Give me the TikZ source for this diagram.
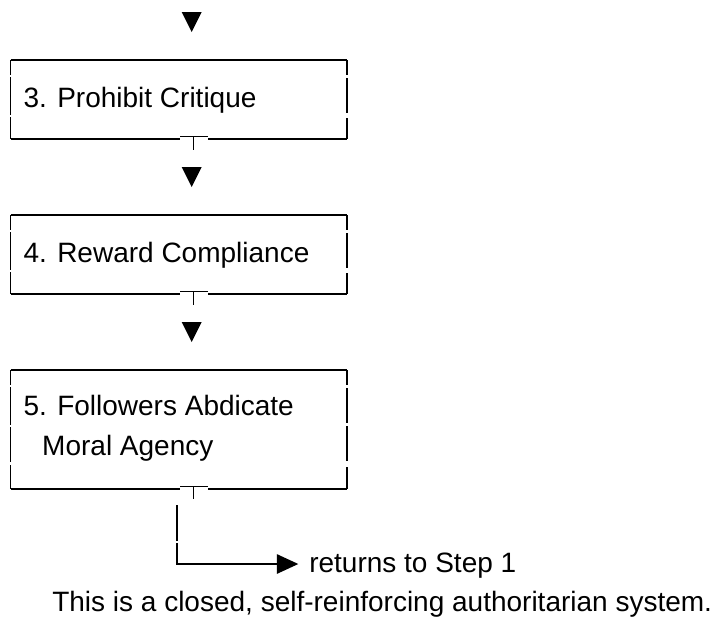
\documentclass[tikz,border=0pt]{standalone}
\usepackage{fontspec}
\setmainfont{Liberation Sans}
\usepackage{tikz}
\usetikzlibrary{arrows.meta}
\tikzstyle{steptext} = [anchor=base west, inner sep=0pt, font=\fontsize{21}{30}\selectfont, align=left]
\tikzstyle{frame} = [line width=1.5pt]
\tikzstyle{side} = [line width=1pt]
\tikzstyle{thickside} = [line width=1.5pt]
\tikzstyle{tee} = [line width=0.8pt]
\tikzstyle{head} = [fill=black]
\tikzstyle{arrow} = [line width=1.1pt, -{Triangle[length=16pt,width=14.5pt]}]

\begin{document}
\begin{tikzpicture}[x=0.75pt, y=-0.75pt]
	\useasboundingbox (0,0) rectangle (723,618);

	\node (prohibit) [steptext] at (23.3,107) {3. Prohibit Critique};
	\node (reward) [steptext] at (23.3,262) {4. Reward Compliance};
	\node (abdicate) [steptext] at (23.3,455) {5. Followers Abdicate\\\hspace*{14pt}Moral Agency};
	\node (ret) [steptext] at (309,572) {returns to Step 1};
	\node (note) [steptext] at (52,611) {This is a closed, self-reinforcing authoritarian system.};

	% heads between the boxes
	\foreach \ty in {12,167,322} {
		\fill[head] (181.7,\ty) -- (201.7,\ty) -- (191.7,\ty+20) -- cycle;
	}

	% frames of the one-line boxes
	\foreach \dy in {0,155} {
		\begin{scope}[shift={(0,\dy)}]
			\draw[frame] (10.5,60) -- (347,60);
			\draw[frame] (10.5,138.5) -- (180,138.5);
			\draw[frame] (208,138.5) -- (347,138.5);
			\draw[side] (10.5,60) -- (10.5,75);
			\draw[side] (10.5,77) -- (10.5,115);
			\draw[side] (10.5,117) -- (10.5,138.5);
			\draw[thickside] (347,60) -- (347,75);
			\draw[thickside] (347,78) -- (347,113);
			\draw[thickside] (347,118) -- (347,138.5);
			\draw[tee] (180,136.3) -- (208,136.3);
			\draw[tee] (193.3,136.3) -- (193.3,150);
		\end{scope}
	}

	% frame of the two-line box
	\draw[frame] (10.5,370) -- (347,370);
	\draw[frame] (10.5,488.5) -- (180,488.5);
	\draw[frame] (208,488.5) -- (347,488.5);
	\draw[side] (10.5,370) -- (10.5,385);
	\draw[side] (10.5,387) -- (10.5,425);
	\draw[side] (10.5,427) -- (10.5,462);
	\draw[side] (10.5,465) -- (10.5,488.5);
	\draw[thickside] (347,370) -- (347,385);
	\draw[thickside] (347,388) -- (347,423);
	\draw[thickside] (347,426) -- (347,461);
	\draw[thickside] (347,467) -- (347,488.5);
	\draw[tee] (180,486.3) -- (208,486.3);
	\draw[tee] (193.3,486.3) -- (193.3,499);

	% back to the start
	\coordinate (drop) at (177,505);
	\coordinate (tip) at (298.3,564);
	\draw[thickside] (drop) -- ++(0,36);
	\draw[arrow] (177,543) |- (tip);
\end{tikzpicture}
\end{document}
